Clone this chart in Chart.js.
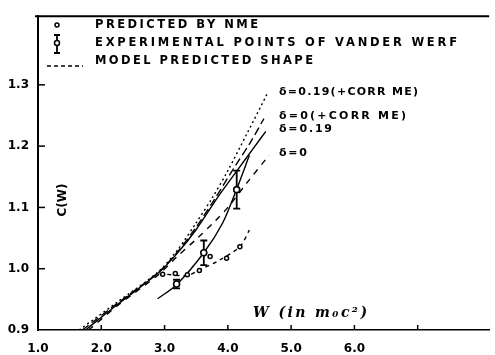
<!DOCTYPE html>
<html>
<head>
  <title>C(W) against W</title>
  <script src="https://cdn.jsdelivr.net/npm/chart.js@4.4.0/dist/chart.umd.min.js"></script>
  <style>
    body { margin: 0; background: #fff; }
    canvas { display: block; }
  </style>
</head>
<body>
  <canvas id="chart" width="495" height="355"></canvas>
<script>
// tick marks and their labels
var xTicks = [1, 2, 3, 4, 5, 6, 7];
var xTickLabels = ['1.0', '2.0', '3.0', '4.0', '5.0', '6.0', ''];
var yTicks = [0.9, 1.0, 1.1, 1.2, 1.3];
var yTickLabels = ['0.9', '1.0', '1.1', '1.2', '1.3'];

// theory curves (W in m0c^2, C(W))
var corr19W = [1.65, 2.26, 2.9, 3.2, 3.5, 3.75, 4.0, 4.3, 4.62];
var corr19C = [0.9, 0.946, 0.995, 1.03, 1.075, 1.115, 1.16, 1.22, 1.285];
var corr0W = [1.7, 2.26, 2.9, 3.2, 3.5, 3.8, 4.1, 4.35, 4.57];
var corr0C = [0.9, 0.944, 0.994, 1.027, 1.068, 1.115, 1.165, 1.205, 1.245];
var d19W = [1.75, 2.26, 2.9, 3.2, 3.5, 3.85, 4.16, 4.4, 4.6];
var d19C = [0.9, 0.942, 0.993, 1.025, 1.064, 1.118, 1.162, 1.196, 1.224];
var d0W = [1.8, 2.26, 2.9, 3.2, 3.5, 3.8, 4.0, 4.3, 4.65];
var d0C = [0.9, 0.94, 0.99, 1.02, 1.048, 1.078, 1.1, 1.14, 1.185];
var curveLabels = ['\u03b4=0.19(+CORR ME)', '\u03b4=0(+CORR ME)', '\u03b4=0.19', '\u03b4=0'];

// line through the experimental points
var expLineW = [2.89, 3.19, 3.62, 3.92, 4.14, 4.34];
var expLineC = [0.951, 0.974, 1.026, 1.075, 1.13, 1.185];

// model predicted shape
var shapeW = [2.92, 3.36, 3.55, 3.85, 4.19, 4.34];
var shapeC = [0.992, 0.989, 0.998, 1.013, 1.036, 1.063];

// predicted by NME
var nmeW = [2.97, 3.17, 3.36, 3.55, 3.72, 3.98, 4.19];
var nmeC = [0.991, 0.992, 0.990, 0.997, 1.020, 1.017, 1.036];

// experimental points of Vander Werf
var expW = [3.19, 3.62, 4.14];
var expC = [0.975, 1.026, 1.129];
var expErr = [0.007, 0.02, 0.031];

function pts(ws, cs) {
  return ws.map(function(w, i) { return { x: w, y: cs[i] }; });
}

function curve(ws, cs, dash) {
  return {
    type: 'line', data: pts(ws, cs), borderColor: '#000', borderWidth: 1.4,
    borderDash: dash, pointRadius: 0, tension: 0.3, fill: false
  };
}

var datasets = [];
// points first so they sit on top
datasets.push({
  type: 'scatter', data: pts(expW, expC), pointStyle: 'circle', pointRadius: 3,
  pointBackgroundColor: '#fff', pointBorderColor: '#000', pointBorderWidth: 1.6
});
datasets.push({
  type: 'scatter', data: pts(nmeW, nmeC), pointStyle: 'circle', pointRadius: 2,
  pointBackgroundColor: '#fff', pointBorderColor: '#000', pointBorderWidth: 1.5
});
expW.forEach(function(w, i) {
  datasets.push({
    type: 'line',
    data: [{ x: w, y: expC[i] - expErr[i] }, { x: w, y: expC[i] + expErr[i] }],
    borderColor: '#000', borderWidth: 1.8, pointStyle: 'line', pointRadius: 3.5,
    pointBorderColor: '#000', pointBorderWidth: 1.8, fill: false
  });
});
datasets.push(curve(expLineW, expLineC, []));
datasets.push(curve(shapeW, shapeC, [4, 4]));
datasets.push(curve(corr19W, corr19C, [2, 3]));
datasets.push(curve(corr0W, corr0C, [8, 4]));
datasets.push(curve(d19W, d19C, []));
datasets.push(curve(d0W, d0C, [6, 6]));

var curveEnds = [corr19C, corr0C, d19C, d0C];

function fitText(ctx, str, x, y, w) {
  ctx.letterSpacing = '0px';
  var m = ctx.measureText(str).width;
  var ls = str.length > 1 ? (w - m) / (str.length - 1) : 0;
  ctx.letterSpacing = ls + 'px';
  ctx.fillText(str, x, y);
  ctx.letterSpacing = '0px';
}

var decor = {
  id: 'decor',
  beforeDraw: function(chart) {
    var ctx = chart.ctx;
    ctx.save();
    ctx.fillStyle = '#fff';
    ctx.fillRect(0, 0, chart.width, chart.height);
    ctx.restore();
  },
  afterDraw: function(chart) {
    var ctx = chart.ctx, a = chart.chartArea;
    var xs = chart.scales.x, ys = chart.scales.y;
    ctx.save();
    ctx.strokeStyle = '#000';
    ctx.fillStyle = '#000';

    // top frame line
    ctx.lineWidth = 2;
    ctx.beginPath();
    ctx.moveTo(a.left - 3, a.top);
    ctx.lineTo(a.right, a.top);
    ctx.stroke();

    // inward tick marks
    ctx.lineWidth = 1.5;
    xTicks.forEach(function(v) {
      if (v === 1) return;
      var px = xs.getPixelForValue(v);
      ctx.beginPath();
      ctx.moveTo(px, a.bottom);
      ctx.lineTo(px, a.bottom - 5);
      ctx.stroke();
    });
    yTicks.forEach(function(v) {
      if (v === 0.9) return;
      var py = ys.getPixelForValue(v);
      ctx.beginPath();
      ctx.moveTo(a.left, py);
      ctx.lineTo(a.left + 7, py);
      ctx.stroke();
    });

    // legend
    var lx = a.left + 19;
    ctx.lineWidth = 1.5;
    ctx.beginPath();
    ctx.arc(lx, 25, 2, 0, Math.PI * 2);
    ctx.stroke();
    ctx.lineWidth = 1.8;
    ctx.beginPath();
    ctx.moveTo(lx, 35); ctx.lineTo(lx, 53);
    ctx.moveTo(lx - 3, 35); ctx.lineTo(lx + 3, 35);
    ctx.moveTo(lx - 3, 53); ctx.lineTo(lx + 3, 53);
    ctx.stroke();
    ctx.fillStyle = '#fff';
    ctx.beginPath();
    ctx.arc(lx, 43, 2.5, 0, Math.PI * 2);
    ctx.fill();
    ctx.lineWidth = 1.5;
    ctx.stroke();
    ctx.fillStyle = '#000';
    ctx.setLineDash([4, 3]);
    ctx.beginPath();
    ctx.moveTo(lx - 10, 66); ctx.lineTo(lx + 26, 66);
    ctx.stroke();
    ctx.setLineDash([]);

    ctx.font = "bold 11.5px 'DejaVu Sans'";
    ctx.textBaseline = 'middle';
    ctx.textAlign = 'left';
    fitText(ctx, 'PREDICTED BY NME', 95, 25, 163);
    fitText(ctx, 'EXPERIMENTAL POINTS OF VANDER WERF', 95, 43, 362);
    fitText(ctx, 'MODEL PREDICTED SHAPE', 95, 61, 218);

    // curve labels next to the curve ends
    ctx.font = "bold 11px 'DejaVu Sans'";
    var widths = [139, 127, 53, 28];
    curveLabels.forEach(function(t, i) {
      var cs = curveEnds[i];
      var py = ys.getPixelForValue(cs[cs.length - 1]) - 2;
      fitText(ctx, t, 279, py, widths[i]);
    });

    // axis titles
    ctx.font = "bold italic 14px 'DejaVu Serif'";
    fitText(ctx, 'W (in m\u2080c\u00b2)', 253, 313, 114);
    ctx.save();
    ctx.translate(63, 200);
    ctx.rotate(-Math.PI / 2);
    ctx.textAlign = 'center';
    ctx.font = "bold 12px 'DejaVu Sans'";
    ctx.fillText('C(W)', 0, 0);
    ctx.restore();

    ctx.restore();
  }
};

new Chart(document.getElementById('chart'), {
  data: { datasets: datasets },
  plugins: [decor],
  options: {
    responsive: false,
    animation: false,
    devicePixelRatio: 1,
    layout: { padding: { top: 12, right: 0, left: 0, bottom: 0 } },
    plugins: { legend: { display: false }, tooltip: { enabled: false } },
    scales: {
      x: {
        type: 'linear', min: 1, max: 8.13,
        afterFit: function(s) { s.height = 25; },
        afterBuildTicks: function(s) { s.ticks = xTicks.map(function(v) { return { value: v }; }); },
        grid: { display: false, drawTicks: false },
        border: { display: true, color: '#000', width: 1.6 },
        ticks: {
          padding: 12, color: '#000', maxRotation: 0, autoSkip: false,
          font: { family: 'DejaVu Sans', size: 12, weight: 'bold' },
          callback: function(v, i) { return xTickLabels[i]; }
        }
      },
      y: {
        type: 'linear', min: 0.9, max: 1.412,
        afterFit: function(s) { s.width = 38; },
        afterBuildTicks: function(s) { s.ticks = yTicks.map(function(v) { return { value: v }; }); },
        grid: { display: false, drawTicks: false },
        border: { display: true, color: '#000', width: 2 },
        ticks: {
          padding: 9, color: '#000', autoSkip: false,
          font: { family: 'DejaVu Sans', size: 12, weight: 'bold' },
          callback: function(v, i) { return yTickLabels[i]; }
        }
      }
    }
  }
});
</script>
</body>
</html>
